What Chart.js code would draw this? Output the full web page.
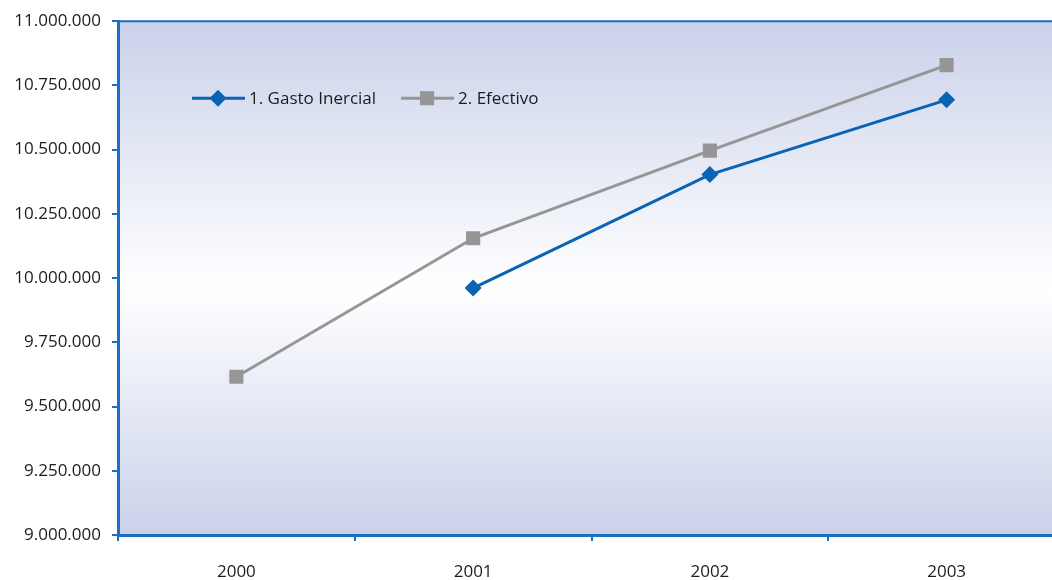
<!DOCTYPE html>
<html>
<head>
<meta charset="utf-8">
<script src="https://cdn.jsdelivr.net/npm/chart.js@4/dist/chart.umd.min.js"></script>
<style>
  html, body { margin: 0; padding: 0; background: #fff; overflow: hidden; }
  #wrap { width: 1075px; height: 580px; }
</style>
</head>
<body>
<div id="wrap"><canvas id="chart" width="1075" height="580"></canvas></div>
<script>
// --- Data ---
const years = ["2000", "2001", "2002", "2003"];
const gastoInercial = [null, 9961000, 10403000, 10694000];
const efectivo = [9616000, 10155000, 10496000, 10829000];
const yMin = 9000000;
const yMax = 11000000;
const yStep = 250000;

const AXIS = "#1b6ec2";
const FONT = "'Open Sans', sans-serif";
const TEXT = "#1c1c1c";

function fmt(v) {
  return String(v).replace(/\B(?=(\d{3})+(?!\d))/g, ".");
}

// gradient background + top border
const bgPlugin = {
  id: "bg",
  beforeDraw(chart) {
    const { ctx, chartArea: a } = chart;
    const g = ctx.createLinearGradient(0, a.top, 0, a.bottom);
    g.addColorStop(0, "#cad2ea");
    g.addColorStop(0.52, "#ffffff");
    g.addColorStop(1, "#cad2ea");
    ctx.save();
    ctx.fillStyle = g;
    ctx.fillRect(a.left, a.top, a.right - a.left, a.bottom - a.top);
    ctx.strokeStyle = AXIS;
    ctx.lineWidth = 2;
    ctx.beginPath();
    ctx.moveTo(a.left, a.top);
    ctx.lineTo(a.right + 5, a.top);
    ctx.stroke();
    ctx.restore();
  },
};

// legend drawn inside the plot area
const legendPlugin = {
  id: "innerLegend",
  afterDatasetsDraw(chart) {
    const { ctx, chartArea: a } = chart;
    let x = 192;
    const y = a.top + 77;
    ctx.save();
    ctx.font = "17px " + FONT;
    ctx.textBaseline = "middle";
    chart.data.datasets.forEach((ds) => {
      ctx.strokeStyle = ds.borderColor;
      ctx.lineWidth = 3;
      ctx.beginPath();
      ctx.moveTo(x, y);
      ctx.lineTo(x + 53, y);
      ctx.stroke();
      ctx.fillStyle = ds.pointBackgroundColor;
      ctx.strokeStyle = ds.pointBorderColor;
      Chart.helpers.drawPoint(ctx, {
        pointStyle: ds.pointStyle, radius: ds.pointRadius, rotation: 0, borderWidth: 0,
      }, x + 26, y);
      ctx.fillStyle = TEXT;
      ctx.fillText(ds.label, x + 57, y + 1);
      x += 57 + ctx.measureText(ds.label).width + 25;
    });
    ctx.restore();
  },
};

new Chart(document.getElementById("chart"), {
  type: "line",
  data: {
    labels: years,
    datasets: [
      {
        label: "1. Gasto Inercial",
        data: gastoInercial,
        borderColor: "#0a64b3",
        borderWidth: 3,
        pointStyle: "rectRot",
        pointRadius: 8.5,
        pointBackgroundColor: "#0a64b3",
        pointBorderColor: "#0a64b3",
        pointBorderWidth: 0,
        tension: 0,
        spanGaps: false,
      },
      {
        label: "2. Efectivo",
        data: efectivo,
        borderColor: "#969696",
        borderWidth: 3,
        pointStyle: "rect",
        pointRadius: 10,
        pointBackgroundColor: "#969696",
        pointBorderColor: "#969696",
        pointBorderWidth: 0,
        tension: 0,
      },
    ],
  },
  options: {
    responsive: false,
    animation: false,
    layout: { padding: { top: 18, right: 2, left: 0, bottom: 0 } },
    plugins: { legend: { display: false }, tooltip: { enabled: false } },
    scales: {
      x: {
        type: "category",
        offset: true,
        grid: { offset: true, drawOnChartArea: false, tickLength: 6, color: AXIS, lineWidth: 2 },
        border: { color: AXIS, width: 3 },
        ticks: { color: TEXT, font: { family: FONT, size: 17 }, padding: 21, maxRotation: 0 },
        afterFit(s) { s.height = 45; },
      },
      y: {
        min: yMin,
        max: yMax,
        grid: { drawOnChartArea: false, tickLength: 6, color: AXIS, lineWidth: 2 },
        border: { color: AXIS, width: 3 },
        ticks: {
          stepSize: yStep,
          color: TEXT,
          font: { family: FONT, size: 17 },
          padding: 11,
          callback: (v) => fmt(v),
        },
        afterFit(s) { s.width = 118; },
      },
    },
  },
  plugins: [bgPlugin, legendPlugin],
});
</script>
</body>
</html>
